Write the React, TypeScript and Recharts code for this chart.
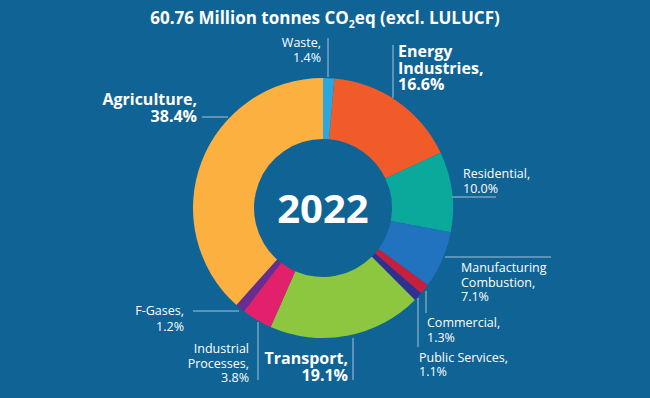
import React from "react";
import { PieChart, Pie, Cell, Customized } from "recharts";

const sectors = [
  "Waste",
  "Energy Industries",
  "Residential",
  "Manufacturing Combustion",
  "Commercial",
  "Public Services",
  "Transport",
  "Industrial Processes",
  "F-Gases",
  "Agriculture",
];
const shares = [1.4, 16.6, 10.0, 7.1, 1.3, 1.1, 19.1, 3.8, 1.2, 38.4];
const labelLines = [
  ["Waste,", "1.4%"],
  ["Energy", "Industries,", "16.6%"],
  ["Residential,", "10.0%"],
  ["Manufacturing", "Combustion,", "7.1%"],
  ["Commercial,", "1.3%"],
  ["Public Services,", "1.1%"],
  ["Transport,", "19.1%"],
  ["Industrial", "Processes,", "3.8%"],
  ["F-Gases,", "1.2%"],
  ["Agriculture,", "38.4%"],
];
const colors = [
  "#2aa7df",
  "#f15a29",
  "#0aa99b",
  "#2173c0",
  "#c8203c",
  "#2e3192",
  "#8dc63f",
  "#e2206b",
  "#6b2c91",
  "#fbb040",
];
const titleYear = "2022";

const data = sectors.map((name, i) => ({ name, value: shares[i] }));

const BG = "#0f6395";
const LINE = "#a8c5da";
const FONT = "'Open Sans', 'DejaVu Sans', sans-serif";

// label layout: text x, first baseline, line gap, anchor, font size, bold, leader line
const layout: Record<number, any> = {
  0: { x: 321, y: 47, gap: 15, anchor: "end", fs: 12.5, bold: false, line: [328, 38, 328, 77] },
  1: { x: 398, y: 57, gap: 16.5, anchor: "start", fs: 16, bold: true, line: [393, 45, 393, 98] },
  2: { x: 463, y: 178, gap: 14.5, anchor: "start", fs: 12.5, bold: false, line: [452, 197, 496, 197] },
  3: { x: 461, y: 272, gap: 14.5, anchor: "start", fs: 12.5, bold: false, line: [445, 257, 551, 257] },
  4: { x: 427, y: 327, gap: 15, anchor: "start", fs: 12.5, bold: false, line: [426, 291, 426, 313] },
  5: { x: 419, y: 362, gap: 14, anchor: "start", fs: 12.5, bold: false, line: [418, 298, 418, 347] },
  6: { x: 348, y: 364, gap: 17, anchor: "end", fs: 16, bold: true, line: [353, 338, 353, 380] },
  7: { x: 249, y: 353, gap: 14.5, anchor: "end", fs: 12.5, bold: false, line: [258, 322, 258, 380] },
  8: { x: 184, y: 315, gap: 16, anchor: "end", fs: 12.5, bold: false, line: [193, 311, 239, 311] },
  9: { x: 197, y: 105, gap: 17, anchor: "end", fs: 16, bold: true, line: [202, 117, 228, 117] },
};

const renderLabel = (props: any) => {
  const i = props.index;
  const l = layout[i];
  const lines = labelLines[i];
  return (
    <g key={`lbl-${i}`}>
      <line x1={l.line[0]} y1={l.line[1]} x2={l.line[2]} y2={l.line[3]} stroke={LINE} strokeWidth={1} />
      {lines.map((t: string, k: number) => (
        <text
          key={k}
          x={l.x}
          y={l.y + k * l.gap}
          textAnchor={l.anchor}
          fill="#ffffff"
          fontFamily={FONT}
          fontSize={l.fs}
          fontWeight={l.bold ? 700 : 400}
        >
          {t}
        </text>
      ))}
    </g>
  );
};

const Overlay = () => (
  <g>
    <text x={325} y={24} textAnchor="middle" fill="#ffffff" fontFamily={FONT} fontSize={17} fontWeight={700}>
      60.76 Million tonnes CO
      <tspan fontSize={10.5} dy={4}>2</tspan>
      <tspan dy={-4}>eq (excl. LULUCF)</tspan>
    </text>
    <text x={323} y={223} textAnchor="middle" fill="#ffffff" fontFamily={FONT} fontSize={40} fontWeight={700}>
      {titleYear}
    </text>
  </g>
);

export default function App() {
  return (
    <div style={{ position: "absolute", left: 0, top: 0, width: 650, height: 398, background: BG }}>
      <PieChart width={650} height={398} margin={{ top: 0, right: 0, bottom: 0, left: 0 }}>
        <Pie
          data={data}
          dataKey="value"
          nameKey="name"
          cx={323}
          cy={208}
          innerRadius={69}
          outerRadius={130}
          startAngle={90}
          endAngle={-270}
          stroke="none"
          isAnimationActive={false}
          label={renderLabel}
          labelLine={false}
        >
          {data.map((d, i) => (
            <Cell key={d.name} fill={colors[i]} />
          ))}
        </Pie>
        <Customized component={Overlay} />
      </PieChart>
    </div>
  );
}
